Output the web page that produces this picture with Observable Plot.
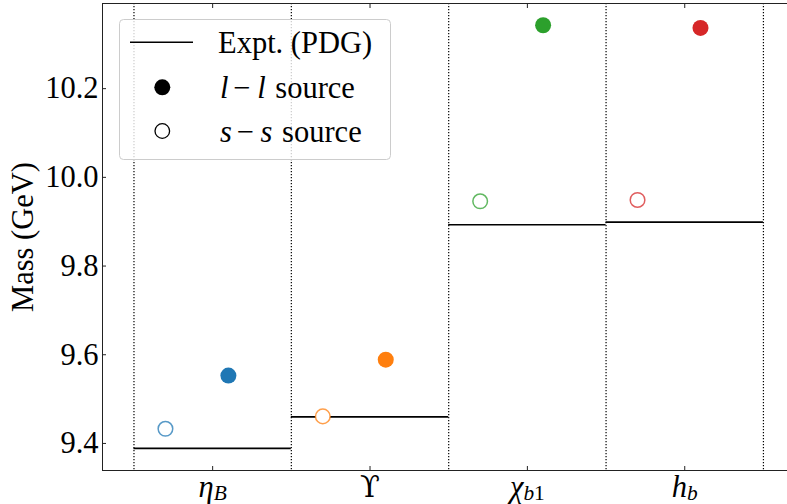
<!DOCTYPE html>
<html><head><meta charset="utf-8">
<script src="https://cdn.jsdelivr.net/npm/d3@7"></script>
<script src="https://cdn.jsdelivr.net/npm/@observablehq/plot@0.6"></script>
<style>
body{margin:0;background:#fff;}
#wrap{position:relative;width:787px;height:504px;font-family:"Liberation Serif",serif;}
#wrap svg text{font-family:"Liberation Serif",serif;}
</style></head><body><div id="wrap"></div>
<script>
const categories = ["η_B", "ϒ", "χ_b1", "h_b"];
const pdgMass = [9.389, 9.460, 9.893, 9.899];
const llSource = [9.553, 9.589, 10.343, 10.337];
const ssSource = [9.433, 9.461, 9.946, 9.949];
const colors = ["#1f77b4", "#ff7f0e", "#2ca02c", "#d62728"];
const yTicks = [9.4, 9.6, 9.8, 10.0, 10.2];
const yLabel = "Mass (GeV)";
const legendLabels = ["Expt. (PDG)", "l−l source", "s−s source"];

const FS = 30.5;
const SERIF = '"Liberation Serif", "DejaVu Serif", serif';
const rows = categories.map((c, i) => ({i, cat: c, pdg: pdgMass[i], ll: llSource[i], ss: ssSource[i], color: colors[i]}));
const bounds = d3.range(categories.length + 1).map(i => i - 0.5);
const xDomain = [-0.7, 3.653];
const yDomain = [9.339, 10.392];

const chart = Plot.plot({
  width: 787, height: 504,
  marginLeft: 102, marginRight: 0, marginTop: 3, marginBottom: 34,
  style: `font-family: ${SERIF}; font-size: ${FS}px; background: white; color: black; overflow: visible;`,
  x: {domain: xDomain},
  y: {domain: yDomain},
  marks: [
    Plot.ruleX(bounds, {x: d => d, stroke: "black", strokeWidth: 1.2, strokeDasharray: "1.2,1.8"}),
    Plot.ruleY(rows, {y: "pdg", x1: d => d.i - 0.5, x2: d => d.i + 0.5, stroke: "black", strokeWidth: 1.6}),
    Plot.dot(rows, {x: d => d.i - 0.3, y: "ss", r: 7.3, stroke: "color", strokeOpacity: 0.75, strokeWidth: 1.5, fill: "white"}),
    Plot.dot(rows, {x: d => d.i + 0.1, y: "ll", r: 8, fill: "color"}),
    Plot.ruleX([xDomain[0]], {stroke: "#222", strokeWidth: 1}),
    Plot.ruleY([yDomain[0], yDomain[1]], {stroke: "#222", strokeWidth: 1}),
    Plot.axisY({ticks: yTicks, tickSize: -4, tickPadding: 8, tickFormat: d3.format(".1f"), fontSize: FS, stroke: "#222"}),
    Plot.axisX({anchor: "bottom", ticks: d3.range(categories.length), tickSize: -4, tickPadding: 8.5, tickFormat: i => categories[i], fontSize: FS, stroke: "#222"}),
    Plot.axisX({anchor: "top", ticks: d3.range(categories.length), tickSize: -4, tickFormat: () => "", stroke: "#222"}),
    Plot.text([yLabel], {text: d => d, frameAnchor: "left", dx: -79, rotate: -90, fontSize: FS, textAnchor: "middle", lineAnchor: "middle"})
  ]
});

d3.select(chart).selectAll("text").attr("font-family", SERIF);

// math-style x tick labels with subscripts
d3.select(chart).selectAll('g[aria-label="x-axis tick label"] text').each(function() {
  const label = this.textContent;
  const [main, sub] = label.split("_");
  const t = d3.select(this);
  t.text(null);
  if (main === "ϒ") {
    t.append("tspan").attr("font-family", '"DejaVu Serif", serif').attr("font-size", (FS * 0.95) + "px").text(main);
  } else {
    t.append("tspan").attr("font-style", "italic").text(main);
  }
  if (sub) {
    let first = true;
    for (const ch of sub) {
      const s = t.append("tspan").attr("font-size", (FS * 0.7) + "px")
        .attr("font-style", /[0-9]/.test(ch) ? "normal" : "italic").text(ch);
      if (first) { s.attr("dy", 3.5); first = false; }
    }
  }
});

const wrap = document.getElementById("wrap");
wrap.appendChild(chart);

// legend overlay
const lg = d3.create("svg").attr("width", 273).attr("height", 142)
  .style("position", "absolute").style("left", "119px").style("top", "19px")
  .style("font-family", SERIF).style("font-size", FS + "px");
lg.append("rect").attr("x", 0.5).attr("y", 0.5).attr("width", 271).attr("height", 140).attr("rx", 4)
  .attr("fill", "white").attr("fill-opacity", 0.8).attr("stroke", "#cccccc");
lg.append("line").attr("x1", 11).attr("x2", 74).attr("y1", 23.3).attr("y2", 23.3).attr("stroke", "black").attr("stroke-width", 1.6);
lg.append("circle").attr("cx", 43.3).attr("cy", 68.3).attr("r", 8).attr("fill", "black");
lg.append("circle").attr("cx", 43.3).attr("cy", 112).attr("r", 7.3).attr("fill", "white").attr("stroke", "black").attr("stroke-width", 1.3);
const baselines = [34.3, 79.3, 122.7];
legendLabels.forEach((lab, k) => {
  const t = lg.append("text").attr("x", k === 0 ? 99 : 101).attr("y", baselines[k]).attr("fill", "black");
  if (lab.includes("−")) {
    const [math, rest] = [lab.split(" ")[0], lab.slice(lab.indexOf(" "))];
    const [a, b] = math.split("−");
    t.append("tspan").attr("font-style", "italic").text(a);
    t.append("tspan").attr("dx", 4.5).text("−");
    t.append("tspan").attr("dx", 7).attr("font-style", "italic").text(b);
    t.append("tspan").attr("dx", 2).text(rest);
  } else {
    t.text(lab);
  }
});
wrap.appendChild(lg.node());
</script></body></html>
